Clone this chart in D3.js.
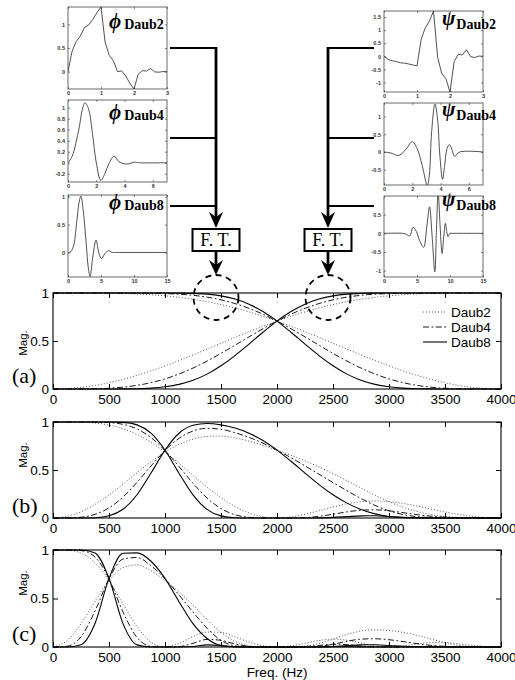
<!DOCTYPE html>
<html><head><meta charset="utf-8">
<script src="https://cdn.jsdelivr.net/npm/d3@7/dist/d3.min.js"></script>
<style>html,body{margin:0;padding:0;background:#fff;} svg{display:block;}</style>
</head><body>
<svg id="fig" width="515" height="680" xmlns="http://www.w3.org/2000/svg"></svg>
<script>
// ================= DATA =================
const freqHz = [0,125,250,375,500,625,750,875,1000,1125,1250,1375,1500,1625,1750,1875,2000,2125,2250,2375,2500,2625,2750,2875,3000,3125,3250,3375,3500,3625,3750,3875,4000];
const freqTicks = [0,500,1000,1500,2000,2500,3000,3500,4000];
const magTicks = [0,0.5,1];
const waveletNames = ["Daub2","Daub4","Daub8"];
const panelLabels = ["(a)","(b)","(c)"];
const xAxisTitle = "Freq. (Hz)";
const yAxisTitle = "Mag.";
const boxText = "F. T.";

// (a) level-1 magnitude responses
const a_daub2_low  = [1,1,1,.999,.998,.995,.990,.982,.971,.955,.935,.910,.879,.844,.803,.757,.707,.653,.596,.537,.476,.416,.355,.297,.241,.189,.142,.100,.065,.037,.017,.004,0];
const a_daub2_high = [0,.004,.017,.037,.065,.100,.142,.189,.241,.297,.355,.416,.476,.537,.596,.653,.707,.757,.803,.844,.879,.910,.935,.955,.971,.982,.990,.995,.998,.999,1,1,1];
const a_daub4_low  = [1,1,1,1,1,1,.999,.998,.994,.988,.976,.957,.929,.890,.840,.779,.707,.628,.543,.456,.371,.291,.218,.156,.105,.066,.038,.019,.008,.003,.001,0,0];
const a_daub4_high = [0,0,.001,.003,.008,.019,.038,.066,.105,.156,.218,.291,.371,.456,.543,.628,.707,.779,.840,.890,.929,.957,.976,.988,.994,.998,.999,1,1,1,1,1,1];
const a_daub8_low  = [1,1,1,1,1,1,1,1,1,.999,.996,.988,.970,.937,.884,.807,.707,.591,.468,.348,.242,.155,.091,.048,.023,.009,.003,.001,0,0,0,0,0];
const a_daub8_high = [0,0,0,0,0,.001,.003,.009,.023,.048,.091,.155,.242,.348,.468,.591,.707,.807,.884,.937,.970,.988,.996,.999,1,1,1,1,1,1,1,1,1];

// (b) level-2 magnitude responses
const b_daub2_low  = [1,1,.998,.989,.968,.930,.870,.788,.686,.569,.445,.323,.212,.120,.052,.013,0,.011,.039,.076,.115,.148,.169,.177,.170,.152,.125,.094,.063,.037,.017,.004,0];
const b_daub2_band = [0,.017,.065,.142,.240,.353,.472,.586,.686,.767,.822,.850,.853,.835,.801,.757,.707,.653,.595,.532,.462,.388,.312,.238,.170,.113,.068,.036,.016,.005,.001,0,0];
const b_daub4_low  = [1,1,1,.999,.994,.976,.928,.838,.703,.536,.362,.209,.098,.034,.007,0,0,0,.004,.017,.039,.064,.081,.085,.075,.056,.035,.019,.008,.003,.001,0,0];
const b_daub4_band = [0,.001,.008,.038,.105,.218,.371,.542,.703,.830,.906,.934,.924,.889,.840,.779,.707,.628,.543,.456,.369,.284,.203,.131,.075,.036,.014,.004,.001,0,0,0,0];
const b_daub8_low  = [1,1,1,1,1,.996,.970,.884,.707,.467,.241,.090,.022,.003,0,0,0,0,0,.001,.006,.014,.022,.023,.016,.008,.003,.001,0,0,0,0,0];
const b_daub8_band = [0,0,0,.003,.023,.091,.242,.468,.707,.883,.966,.984,.970,.937,.884,.807,.707,.591,.468,.348,.242,.155,.089,.043,.016,.004,.001,0,0,0,0,0,0];

// (c) level-3 magnitude responses
const c_daub2_low  = [1,.998,.968,.870,.685,.443,.210,.051,0,.037,.107,.154,.150,.105,.051,.013,0,.011,.038,.067,.081,.070,.041,.012,0,.010,.030,.045,.045,.032,.016,.004,0];
const c_daub2_band = [0,.065,.240,.471,.685,.818,.845,.787,.686,.568,.432,.284,.150,.057,.013,.001,0,.001,.009,.036,.081,.130,.164,.177,.170,.151,.121,.082,.045,.017,.004,0,0];
const c_daub4_low  = [1,1,.994,.928,.703,.362,.098,.007,0,.004,.038,.078,.069,.031,.007,0,0,0,.004,.016,.028,.024,.009,.001,0,0,.004,.007,.006,.002,.001,0,0];
const c_daub4_band = [0,.008,.105,.371,.703,.906,.923,.838,.703,.536,.360,.194,.069,.012,.001,0,0,0,0,.006,.028,.059,.081,.085,.075,.056,.035,.017,.006,.001,0,0,0];
const c_daub8_low  = [1,1,1,.970,.707,.241,.022,0,0,0,.005,.022,.016,.003,0,0,0,0,0,.001,.004,.003,.001,0,0,0,0,0,0,0,0,0,0];
const c_daub8_band = [0,0,.023,.242,.707,.966,.970,.884,.707,.467,.241,.088,.016,.001,0,0,0,0,0,0,.004,.014,.022,.023,.016,.008,.003,.001,0,0,0,0,0];

// time-domain scaling functions (phi) and wavelets (psi)
const phiDaub2_t = [0,.125,.25,.375,.5,.625,.75,.875,1,1.125,1.25,1.375,1.5,1.625,1.75,1.875,2,2.125,2.25,2.375,2.5,2.625,2.75,2.875,3];
const phiDaub2_v = [0,.435,.637,.754,.933,.987,1.104,1.244,1.366,.621,.342,.233,0,.017,-.092,-.246,-.366,-.056,.021,.013,.067,-.004,-.012,.002,0];
const psiDaub2_t = [0,.125,.25,.375,.5,.625,.75,.875,1,1.125,1.25,1.375,1.5,1.625,1.75,1.875,2,2.125,2.25,2.375,2.5,2.625,2.75,2.875,3];
const psiDaub2_v = [0,-.117,-.171,-.202,-.25,-.265,-.296,-.333,-.366,.641,1.091,1.337,1.732,-.037,-.659,-.858,-1.366,-.209,.079,.048,.25,-.015,-.046,.008,0];
const phiDaub4_t = [0,.3,.55,.8,1.0,1.2,1.45,1.73,2.0,2.32,2.62,2.9,3.26,3.6,3.97,4.3,4.68,5,7];
const phiDaub4_v = [0,.12,.35,.65,.95,1.09,.98,.53,0,-.32,-.19,-.01,.12,.02,-.02,-.02,.01,0,0];
const psiDaub4_t = [0,.5,1.0,1.5,2.0,2.34,2.7,3.06,3.2,3.37,3.6,3.78,3.95,4.14,4.29,4.46,4.63,4.82,4.99,5.35,7];
const psiDaub4_v = [0,-.03,-.1,.05,.29,.1,-.38,-.94,-.67,.58,1.35,.96,-.1,-.77,-.38,.1,.21,.05,-.12,0,0];
const phiDaub8_t = [0,.3,.8,1.3,1.65,1.95,2.3,2.8,3.05,3.35,3.75,4.25,4.7,5.1,5.6,6.15,6.7,7.2,15];
const phiDaub8_v = [0,0,.1,.52,.88,1.01,.76,.1,-.25,-.43,-.08,.22,-.02,-.11,-.02,.03,0,0,0];
const psiDaub8_t = [0,2.8,3.3,3.9,4.4,4.9,5.4,6.0,6.5,6.9,7.3,7.7,7.95,8.2,8.5,8.8,9.05,9.3,9.5,9.7,10.0,10.3,15];
const psiDaub8_v = [0,0,-.02,-.07,.16,.05,-.2,-.375,.2,.71,-.1,-1.03,.1,1.1,.2,-.54,-.1,.27,.05,-.09,0,0,0];

const timeTicks2 = [0,1,2,3];
const timeTicks4 = [0,2,4,6];
const timeTicks8 = [0,5,10,15];
const phiDaub2_yTicks = [0,0.5,1];
const phiDaub4_yTicks = [-0.2,0,0.2,0.4,0.6,0.8,1];
const phiDaub8_yTicks = [0,0.5,1];
const psiDaub2_yTicks = [-1,-0.5,0,0.5,1,1.5];
const psiDaub4_yTicks = [-0.5,0,0.5,1];
const psiDaub8_yTicks = [-1,-0.5,0,0.5];

// ================= DRAWING =================
const svg = d3.select("#fig");
const SANS = "'Liberation Sans', Arial, Helvetica, sans-serif";
const SERIF = "'Liberation Serif', 'Times New Roman', Times, serif";
let clipCount = 0;
function addClip(x, y, w, h) {
  const id = "clip" + (clipCount++);
  svg.append("clipPath").attr("id", id).append("rect")
    .attr("x", x).attr("y", y).attr("width", w).attr("height", h);
  return "url(#" + id + ")";
}
function styleAxis(sel, fs, family, weight, color, tickW) {
  sel.attr("font-size", fs).attr("font-family", family);
  sel.select(".domain").remove();
  sel.selectAll(".tick line").attr("stroke", color).attr("stroke-width", tickW);
  sel.selectAll(".tick text").attr("fill", color).attr("font-weight", weight);
}

// ---- small time-domain plots ----
const smallPlots = [
  {t: phiDaub2_t, v: phiDaub2_v, left: 68, right: 167, top: 7,   bottom: 89,  xd: [0,3],  yd: [-0.366,1.366], xt: timeTicks2, yt: phiDaub2_yTicks, smooth: false},
  {t: phiDaub4_t, v: phiDaub4_v, left: 68, right: 167, top: 100, bottom: 182, xd: [0,7],  yd: [-0.35,1.14],   xt: timeTicks4, yt: phiDaub4_yTicks, smooth: true},
  {t: phiDaub8_t, v: phiDaub8_v, left: 68, right: 167, top: 195, bottom: 277, xd: [0,15], yd: [-0.44,1.03],   xt: timeTicks8, yt: phiDaub8_yTicks, smooth: true},
  {t: psiDaub2_t, v: psiDaub2_v, left: 384, right: 483, top: 11,  bottom: 92,  xd: [0,3],  yd: [-1.366,1.732], xt: timeTicks2, yt: psiDaub2_yTicks, smooth: false},
  {t: psiDaub4_t, v: psiDaub4_v, left: 384, right: 483, top: 103, bottom: 185, xd: [0,7],  yd: [-0.93,1.38],   xt: timeTicks4, yt: psiDaub4_yTicks, smooth: true},
  {t: psiDaub8_t, v: psiDaub8_v, left: 384, right: 483, top: 196, bottom: 277, xd: [0,15], yd: [-1.17,1.0],    xt: timeTicks8, yt: psiDaub8_yTicks, smooth: true}
];
smallPlots.forEach(s => {
  const x = d3.scaleLinear().domain(s.xd).range([s.left, s.right]);
  const y = d3.scaleLinear().domain(s.yd).range([s.bottom, s.top]);
  const g = svg.append("g");
  const clip = addClip(s.left, s.top, s.right - s.left, s.bottom - s.top);
  g.append("path").datum(d3.zip(s.t, s.v)).attr("clip-path", clip)
    .attr("fill", "none").attr("stroke", "#3c3c3c").attr("stroke-width", 0.9)
    .attr("d", d3.line().x(d => x(d[0])).y(d => y(d[1]))
      .curve(s.smooth ? d3.curveCatmullRom.alpha(0.5) : d3.curveLinear));
  const fmt = d => String(d);
  const c = "#333";
  styleAxis(g.append("g").attr("transform", `translate(0,${s.bottom})`)
    .call(d3.axisBottom(x).tickValues(s.xt).tickSize(-2).tickPadding(2.5).tickFormat(fmt)), 5.5, SANS, "bold", c, 0.6);
  styleAxis(g.append("g").attr("transform", `translate(0,${s.top})`)
    .call(d3.axisTop(x).tickValues(s.xt).tickSize(-2).tickFormat("")), 5.5, SANS, "bold", c, 0.6);
  styleAxis(g.append("g").attr("transform", `translate(${s.left},0)`)
    .call(d3.axisLeft(y).tickValues(s.yt).tickSize(-2).tickPadding(3).tickFormat(fmt)), 5.5, SANS, "bold", c, 0.6);
  styleAxis(g.append("g").attr("transform", `translate(${s.right},0)`)
    .call(d3.axisRight(y).tickValues(s.yt).tickSize(-2).tickFormat("")), 5.5, SANS, "bold", c, 0.6);
  g.append("rect").attr("x", s.left).attr("y", s.top).attr("width", s.right - s.left).attr("height", s.bottom - s.top)
    .attr("fill", "none").attr("stroke", "#444").attr("stroke-width", 0.8);
});

// ---- function labels ----
const phiLabels = [{y: 28, name: waveletNames[0]}, {y: 119, name: waveletNames[1]}, {y: 209, name: waveletNames[2]}];
phiLabels.forEach(l => {
  const t = svg.append("text").attr("x", 109).attr("y", l.y).attr("font-family", SERIF).attr("font-weight", "bold");
  t.append("tspan").attr("font-size", 21).attr("font-style", "italic").text("\u03D5");
  t.append("tspan").attr("font-size", 14).attr("dx", 3).attr("dy", 1).text(l.name);
});
const psiLabels = [{y: 25, name: waveletNames[0]}, {y: 116, name: waveletNames[1]}, {y: 206, name: waveletNames[2]}];
psiLabels.forEach(l => {
  const t = svg.append("text").attr("x", 442).attr("y", l.y).attr("font-family", SERIF).attr("font-weight", "bold");
  t.append("tspan").attr("font-size", 20).attr("font-style", "italic").text("\u03C8");
  t.append("tspan").attr("font-size", 14).attr("dx", 1).attr("dy", 4).text(l.name);
});

// ---- connectors and F.T. boxes ----
const branchY = [48, 138, 206];
function connector(cx, xFrom) {
  branchY.forEach(by => {
    svg.append("line").attr("x1", xFrom).attr("x2", cx).attr("y1", by).attr("y2", by)
      .attr("stroke", "#000").attr("stroke-width", 2.2);
  });
  svg.append("line").attr("x1", cx).attr("x2", cx).attr("y1", 47).attr("y2", 218)
    .attr("stroke", "#000").attr("stroke-width", 2.8);
  svg.append("path").attr("d", `M${cx},228 L${cx-7},212 L${cx},217 L${cx+7},212 Z`).attr("fill", "#000");
  svg.append("rect").attr("x", cx - 23.5).attr("y", 229).attr("width", 47).attr("height", 22)
    .attr("fill", "#fff").attr("stroke", "#000").attr("stroke-width", 2);
  svg.append("text").attr("x", cx).attr("y", 246).attr("text-anchor", "middle")
    .attr("font-family", SERIF).attr("font-size", 18).text(boxText);
  svg.append("line").attr("x1", cx).attr("x2", cx).attr("y1", 251).attr("y2", 265)
    .attr("stroke", "#000").attr("stroke-width", 2.8);
  svg.append("path").attr("d", `M${cx},275 L${cx-7},260 L${cx},265 L${cx+7},260 Z`).attr("fill", "#000");
}
connector(216, 170);
connector(328, 374);

// ---- frequency panels ----
const lineStyles = [
  {stroke: "#555", width: 1.0, dash: "1,2"},
  {stroke: "#000", width: 0.9, dash: "6,2.5,1.8,2.5"},
  {stroke: "#000", width: 1.1, dash: null}
];
const panels = [
  {top: 293, bottom: 389, labelY: 383, magY: 343, series: [[a_daub2_low, a_daub2_high], [a_daub4_low, a_daub4_high], [a_daub8_low, a_daub8_high]], legend: true},
  {top: 422, bottom: 518, labelY: 513, magY: 455, series: [[b_daub2_low, b_daub2_band], [b_daub4_low, b_daub4_band], [b_daub8_low, b_daub8_band]], legend: false},
  {top: 550, bottom: 647, labelY: 641, magY: 583, series: [[c_daub2_low, c_daub2_band], [c_daub4_low, c_daub4_band], [c_daub8_low, c_daub8_band]], legend: false}
];
const PL = 53, PR = 501;
panels.forEach((p, pi) => {
  const x = d3.scaleLinear().domain([0, 4000]).range([PL, PR]);
  const y = d3.scaleLinear().domain([0, 1]).range([p.bottom, p.top]);
  const g = svg.append("g");
  const clip = addClip(PL, p.top - 1, PR - PL, p.bottom - p.top + 2);
  const line = d3.line().x((d, i) => x(freqHz[i])).y(d => y(d)).curve(d3.curveMonotoneX);
  p.series.forEach((pair, wi) => {
    const st = lineStyles[wi];
    pair.forEach(arr => {
      g.append("path").datum(arr).attr("clip-path", clip)
        .attr("fill", "none").attr("stroke", st.stroke).attr("stroke-width", st.width)
        .attr("stroke-dasharray", st.dash).attr("d", line);
    });
  });
  styleAxis(g.append("g").attr("transform", `translate(0,${p.bottom})`)
    .call(d3.axisBottom(x).tickValues(freqTicks).tickSize(-5).tickPadding(5).tickFormat(d3.format("d"))), 13.5, SANS, "normal", "#000", 1);
  styleAxis(g.append("g").attr("transform", `translate(0,${p.top})`)
    .call(d3.axisTop(x).tickValues(freqTicks).tickSize(-5).tickFormat("")), 13.5, SANS, "normal", "#000", 1);
  styleAxis(g.append("g").attr("transform", `translate(${PL},0)`)
    .call(d3.axisLeft(y).tickValues(magTicks).tickSize(-5).tickPadding(4).tickFormat(d => String(d))), 13.5, SANS, "normal", "#000", 1);
  styleAxis(g.append("g").attr("transform", `translate(${PR},0)`)
    .call(d3.axisRight(y).tickValues(magTicks).tickSize(-5).tickFormat("")), 13.5, SANS, "normal", "#000", 1);
  g.append("rect").attr("x", PL).attr("y", p.top).attr("width", PR - PL).attr("height", p.bottom - p.top)
    .attr("fill", "none").attr("stroke", "#000").attr("stroke-width", 1.1);
  g.append("text").attr("x", 12).attr("y", p.labelY).attr("font-family", SERIF).attr("font-size", 22).text(panelLabels[pi]);
  g.append("text").attr("transform", `translate(27,${p.magY}) rotate(-90)`).attr("text-anchor", "middle")
    .attr("font-family", SANS).attr("font-size", 11.5).text(yAxisTitle);
  if (p.legend) {
    const ly = [312, 327, 342];
    lineStyles.forEach((st, i) => {
      g.append("line").attr("x1", 423).attr("x2", 447).attr("y1", ly[i]).attr("y2", ly[i])
        .attr("stroke", st.stroke).attr("stroke-width", st.width).attr("stroke-dasharray", st.dash);
      g.append("text").attr("x", 451).attr("y", ly[i] + 5).attr("font-family", SANS).attr("font-size", 13.5).text(waveletNames[i]);
    });
  }
});
svg.append("text").attr("x", 277).attr("y", 677).attr("text-anchor", "middle")
  .attr("font-family", SANS).attr("font-size", 13.5).text(xAxisTitle);

// ---- dashed circles ----
[216, 328].forEach(cx => {
  svg.append("circle").attr("cx", cx).attr("cy", 297.5).attr("r", 22.5)
    .attr("fill", "none").attr("stroke", "#000").attr("stroke-width", 1.8).attr("stroke-dasharray", "6,4.5");
});
</script>
</body></html>
